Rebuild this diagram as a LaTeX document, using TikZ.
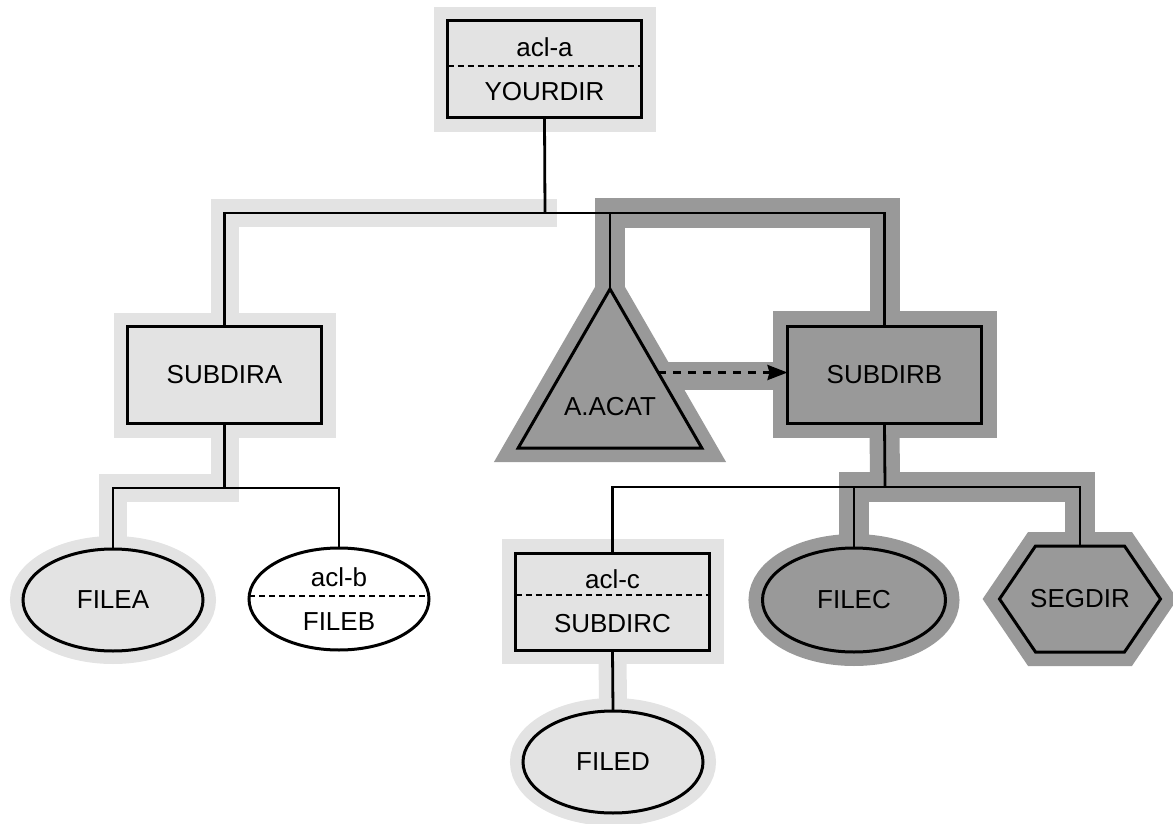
\documentclass[tikz,border=0pt]{standalone}
\usepackage{fontspec}
\setmainfont{Liberation Sans}
\usetikzlibrary{shapes.geometric,arrows.meta,backgrounds}
\definecolor{lightg}{gray}{0.89}
\definecolor{darkg}{gray}{0.60}
\begin{document}
\begin{tikzpicture}[x=0.5pt,y=-0.5pt,
  every node/.style={font=\fontsize{13}{22}\selectfont, inner sep=0pt, outer sep=0pt},
  rbox/.style={draw, line width=1.5pt, minimum width=97pt, minimum height=48.5pt, align=center},
  lbox/.style={rbox, fill=lightg},
  dbox/.style={rbox, fill=darkg},
  oval/.style={ellipse, draw, line width=1.5pt, minimum width=90pt, minimum height=51pt, align=center},
  lhalo/.style={fill=lightg, draw=lightg, line width=14pt, line join=miter},
  dhalo/.style={fill=darkg, draw=darkg, line width=15pt, line join=miter},
  lband/.style={draw=lightg, line width=14pt, line join=miter},
  dband/.style={draw=darkg, line width=15pt, line join=miter},
  conn/.style={line width=1.4pt},
  thinconn/.style={line width=1.1pt},
  sepline/.style={dash pattern=on 3pt off 2pt, line width=1.1pt},
]
\useasboundingbox (0,0) rectangle (1173,824);

% nodes
\node[lbox] (yd) at (544.5,69.5) {acl-a\\YOURDIR};
\node[lbox] (sa) at (224.5,375) {SUBDIRA};
\node[dbox] (sb) at (884.5,374.5) {SUBDIRB};
\node[lbox] (sc) at (612.5,601.5) {acl-c\\SUBDIRC};
\node[oval, fill=lightg] (fa) at (113,600) {FILEA};
\node[oval, fill=white] (fb) at (339,599) {acl-b\\FILEB};
\node[oval, fill=darkg, minimum width=91.5pt, minimum height=52pt] (fc) at (854,600) {FILEC};
\node[oval, fill=lightg] (fd) at (613,762) {FILED};
\node[regular polygon, regular polygon sides=3, minimum size=106pt, draw, fill=darkg,
      line width=1.5pt, label={[yshift=-6pt]center:A.ACAT}] (ac) at (610,395) {};
\node[minimum width=80.5pt, minimum height=53pt] (sg) at (1080,599) {SEGDIR};

% junction coordinates
\coordinate (j1) at (545,213);
\coordinate (tl) at (sa.north |- j1);
\coordinate (tr) at (sb.north |- j1);
\coordinate (ya) at (0,488);
\coordinate (ja) at (sa.south |- ya);
\coordinate (jb) at (885,487);

\begin{scope}[on background layer]
  % halos
  \path[lhalo] (yd.north west) rectangle (yd.south east);
  \path[lhalo] (sa.north west) rectangle (sa.south east);
  \path[lhalo] (sc.north west) rectangle (sc.south east);
  \path[dhalo] (sb.north west) rectangle (sb.south east);
  \path[lhalo, line width=13pt] (fa.center) ellipse [x radius=45pt, y radius=25.5pt];
  \path[lhalo, line width=13pt] (fd.center) ellipse [x radius=45pt, y radius=25.5pt];
  \path[dhalo, line width=14pt] (fc.center) ellipse [x radius=45.75pt, y radius=26pt];
  \path[dhalo, line width=14pt] (ac.corner 1) -- (ac.corner 2) -- (ac.corner 3) -- cycle;
  \path[dhalo, line width=14pt] (sg.west) -- ([xshift=18pt]sg.north west) -- ([xshift=-18pt]sg.north east)
       -- (sg.east) -- ([xshift=-18pt]sg.south east) -- ([xshift=18pt]sg.south west) -- cycle;
  % bands
  \draw[lband] ([xshift=6pt]j1) -- (tl) -- (sa.north);
  \draw[lband] (sa.south) -- (ja) -- (ja -| fa.north) -- (fa.north);
  \draw[lband] (sc.south) -- (fd.north);
  \draw[dband] (ac.north) -- (ac.north |- j1) -- (tr) -- (sb.north);
  \draw[dband] (sb.south) -- (jb);
  \draw[dband] (fc.north) -- (fc.north |- jb) -- (jb -| sg.north) -- (sg.north);
  \draw[dband, line width=14pt] ([yshift=-1.5pt]ac.25) -- ([yshift=-1.5pt]ac.25 -| sb.west);
  % hexagon shape of SEGDIR
  \path[fill=darkg, draw=black, line width=1.5pt, line join=miter]
       (sg.west) -- ([xshift=18pt]sg.north west) -- ([xshift=-18pt]sg.north east)
       -- (sg.east) -- ([xshift=-18pt]sg.south east) -- ([xshift=18pt]sg.south west) -- cycle;
\end{scope}

% connectors
\draw[conn] (yd.south) -- (j1);
\draw[conn] (sa.north) -- (tl) -- (tr) -- (sb.north);
\draw[conn] (ac.north) -- (ac.north |- j1);
\draw[conn] (sa.south) -- (ja);
\draw[thinconn] (fa.north) -- (fa.north |- ja) -- (fb.north |- ja) -- (fb.north);
\draw[conn] (sb.south) -- (jb);
\draw[thinconn] (sc.north) -- (sc.north |- jb) -- (fc.north |- jb);
\draw[conn] (fc.north) -- (fc.north |- jb) -- (sg.north |- jb) -- (sg.north);
\draw[conn] (sc.south) -- (fd.north);
\draw[line width=1.4pt, dash pattern=on 4pt off 3.5pt,
      -{Stealth[length=10pt,width=7.5pt,inset=1pt]}] (ac.25) -- (ac.25 -| sb.west);

% dashed separators
\draw[sepline] ([yshift=1.75pt]yd.west) -- ([yshift=1.75pt]yd.east);
\draw[sepline] ([yshift=3.25pt]sc.west) -- ([yshift=3.25pt]sc.east);
\draw[sepline] ([yshift=1.5pt]fb.west) -- ([yshift=1.5pt]fb.east);
\end{tikzpicture}
\end{document}
